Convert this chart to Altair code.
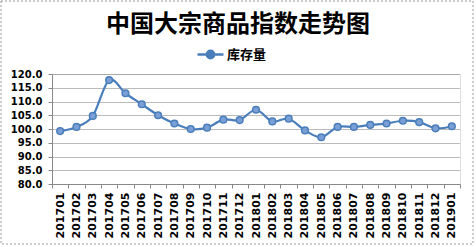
import altair as alt
import pandas as pd

months = ["201701", "201702", "201703", "201704", "201705", "201706", "201707",
          "201708", "201709", "201710", "201711", "201712", "201801", "201802",
          "201803", "201804", "201805", "201806", "201807", "201808", "201809",
          "201810", "201811", "201812", "201901"]
values = [99.25, 100.75, 104.75, 117.8, 113.0, 109.0, 105.0, 102.0, 100.0, 100.5,
          103.4, 103.25, 107.0, 102.75, 103.75, 99.5, 97.0, 100.75, 100.75, 101.5,
          102.0, 103.0, 102.5, 100.25, 101.0]
series_name = "库存量"

df = pd.DataFrame({"month": months, "value": values, "series": [series_name] * len(months)})

LINE = "#4a7ebb"
FILL = "#7a9fd6"

x = alt.X("month:O", sort=months, title=None,
          scale=alt.Scale(paddingInner=0, paddingOuter=0),
          axis=alt.Axis(labelAngle=-90, labelFont="DejaVu Sans", labelFontWeight="bold",
                        labelFontSize=11, labelColor="#000", labelPadding=4,
                        tickBand="extent", tickColor="#888", tickSize=4,
                        domainColor="#888", grid=False))
y = alt.Y("value:Q", title=None,
          scale=alt.Scale(domain=[80, 120], nice=False, zero=False),
          axis=alt.Axis(values=list(range(80, 121, 5)), format=".1f",
                        labelFont="DejaVu Sans", labelFontWeight="bold", labelFontSize=10,
                        labelColor="#000", labelPadding=6, tickColor="#888", tickSize=4,
                        domainColor="#888", grid=True, gridColor="#777",
                        gridDash=[1, 1], gridWidth=1))
color = alt.Color("series:N", scale=alt.Scale(range=[LINE]),
                  legend=alt.Legend(title=None, orient="none", legendX=144, legendY=-34,
                                    padding=0,
                                    symbolType="M-1,0L1,0M0.28,0A0.28,0.28,0,1,1,-0.28,0A0.28,0.28,0,1,1,0.28,0Z",
                                    symbolSize=676, symbolStrokeWidth=2.5,
                                    symbolFillColor=FILL, symbolStrokeColor=LINE,
                                    labelFont="Noto Sans CJK SC", labelFontWeight="bold",
                                    labelFontSize=13, labelColor="#000", labelOffset=2))

line = alt.Chart(df).mark_line(interpolate="cardinal", strokeWidth=2.2, color=LINE).encode(
    x=x, y=y, color=color)
pts = alt.Chart(df).mark_point(filled=True, shape="circle", size=45, fill=FILL,
                               stroke=LINE, strokeWidth=1.5, opacity=1).encode(
    x=x, y=y, color=color)

frame = alt.Chart(alt.Data(values=[{}])).mark_rect(
    fill=None, stroke="#999", strokeDash=[2, 2], strokeWidth=1).encode(
    x=alt.value(-51), x2=alt.value(421), y=alt.value(-73), y2=alt.value(170))

chart = alt.layer(frame, line, pts).properties(
    width=408, height=110,
    autosize=alt.AutoSizeParams(type="none"),
    padding={"left": 52, "top": 74, "right": 16, "bottom": 63},
    title=alt.TitleParams("中国大宗商品指数走势图", font="Noto Sans CJK SC", fontSize=24,
                          fontWeight="bold", color="#000", anchor="middle", dx=-18,
                          offset=-36),
).configure_view(stroke=None).configure(background="white")

chart.save("out.html", embed_options={"renderer": "svg", "actions": False})
